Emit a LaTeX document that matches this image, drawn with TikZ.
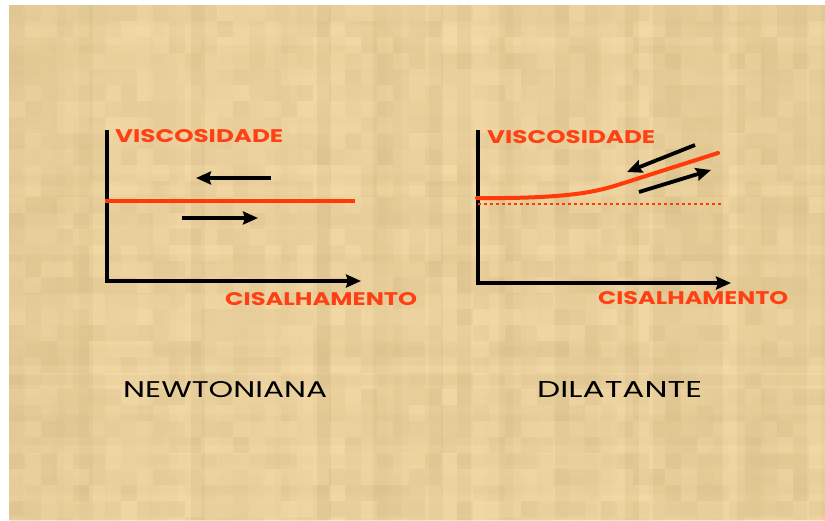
\documentclass[tikz,border=0pt]{standalone}
\usepackage{fontspec}
\setmainfont{Poppins}
\usetikzlibrary{arrows.meta}

\definecolor{parch}{HTML}{E9CF9B}
\definecolor{parchlight}{HTML}{F7DEAA}
\definecolor{parchdark}{HTML}{D8BF8A}
\definecolor{curvered}{HTML}{FF3A08}
\definecolor{labelred}{HTML}{FF4014}

% text boxed to a given width and cap height
\newcommand\fitlabel[3]{\resizebox{#1}{#2}{#3}}

\tikzset{
  axis/.style={line width=4.5pt, line join=miter,
    -{Stealth[length=15pt,width=13pt,inset=2pt]}},
  flowarrow/.style={line width=3.8pt, -{Stealth[length=15pt,width=13pt,inset=2pt]}},
  viscline/.style={draw=curvered, line width=4.5pt},
  visccurve/.style={draw=curvered, line width=4pt, line cap=round},
  baseline/.style={draw=curvered, line width=2pt, dash pattern=on 3pt off 3pt},
  axislabel/.style={text=labelred, font=\bfseries, anchor=base west, inner sep=0pt},
  titlelabel/.style={text=black, anchor=base west, inner sep=0pt},
}

\begin{document}
\begin{tikzpicture}[x=1pt,y=-1pt]
\useasboundingbox (0,0) rectangle (825,520);
\fill[white] (0,0) rectangle (825,520);

% parchment background
\begin{scope}
\clip (9,5) rectangle (825,520);
\fill[parch] (9,5) rectangle (825,520);
\pgfmathsetseed{11}
\foreach \r in {0,...,51}{
  \pgfmathtruncatemacro\t{random(0,100)}
  \fill[parchdark!\t!parchlight, opacity=0.40] (9,5+\r*10) rectangle (825,15+\r*10);
}
\foreach \c in {0,...,58}{
  \pgfmathtruncatemacro\t{random(0,100)}
  \fill[parchdark!\t!parchlight, opacity=0.40] (9+\c*14,5) rectangle (23+\c*14,520);
}
\foreach \c in {0,...,51}{
  \foreach \r in {0,...,32}{
    \pgfmathtruncatemacro\t{random(0,100)}
    \fill[parchdark!\t!parchlight, opacity=0.30] (9+\c*16,5+\r*16) rectangle (25+\c*16,21+\r*16);
  }
}
\end{scope}

% ---- Newtonian fluid ----
\coordinate (Ltop) at (107,130);
\coordinate (Lorig) at (107,281);
\coordinate (Lend) at (361,281);
\draw[axis] (Ltop) -- (Lorig) -- (Lend);

\coordinate (Lv0) at (105,201);
\coordinate (Lv1) at (355,201);
\draw[viscline] (Lv0) -- (Lv1);

\coordinate (La0) at (271,178);
\coordinate (La1) at (196,178);
\draw[flowarrow] (La0) -- (La1);
\coordinate (Lb0) at (182,218);
\coordinate (Lb1) at (258,218);
\draw[flowarrow] (Lb0) -- (Lb1);

\node[axislabel] (Lvisc) at (115,142) {\fitlabel{168pt}{13pt}{VISCOSIDADE}};
\node[axislabel] (Lshear) at (225,305) {\fitlabel{192pt}{13pt}{CISALHAMENTO}};
\node[titlelabel] (Lname) at (123,397) {\fitlabel{204pt}{16pt}{NEWTONIANA}};

% ---- Dilatant fluid ----
\coordinate (Rtop) at (478,130);
\coordinate (Rorig) at (478,283);
\coordinate (Rend) at (731,283);
\draw[axis] (Rtop) -- (Rorig) -- (Rend);

\coordinate (Rd0) at (478,204);
\coordinate (Rd1) at (722,204);
\draw[baseline] (Rd0) -- (Rd1);

\coordinate (Rc0) at (477,198);
\coordinate (Rc1) at (627,182);
\coordinate (Rc2) at (718,153);
\draw[visccurve] (Rc0) .. controls (580,199) and (603,189.5) .. (Rc1) -- (Rc2);

\coordinate (Ra0) at (695,145);
\coordinate (Ra1) at (627,172);
\draw[flowarrow] (Ra0) -- (Ra1);
\coordinate (Rb0) at (639,192);
\coordinate (Rb1) at (711,170);
\draw[flowarrow] (Rb0) -- (Rb1);

\node[axislabel] (Rvisc) at (487,143) {\fitlabel{168pt}{13pt}{VISCOSIDADE}};
\node[axislabel] (Rshear) at (598,304) {\fitlabel{190pt}{13pt}{CISALHAMENTO}};
\node[titlelabel] (Rname) at (537,397) {\fitlabel{165pt}{16pt}{DILATANTE}};
\end{tikzpicture}
\end{document}
